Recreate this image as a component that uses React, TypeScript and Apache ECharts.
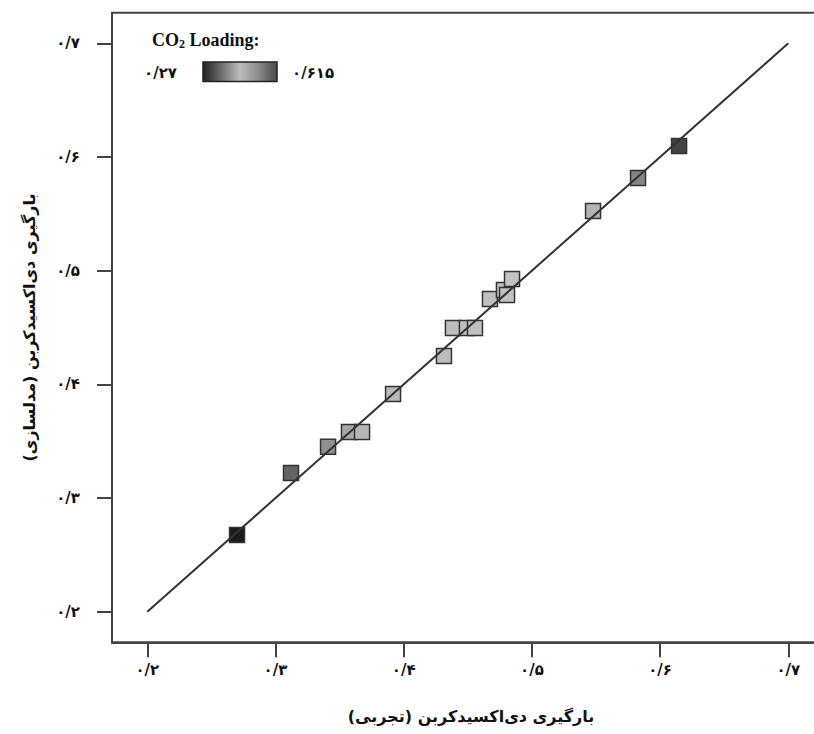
import React, { useEffect, useRef } from "react";
import * as echarts from "echarts";

// experimental CO2 loading (x) vs modelled (y)
const experimental = [0.27, 0.3121, 0.341, 0.3573, 0.3675, 0.3917, 0.4314, 0.4384, 0.4493, 0.4556, 0.4673, 0.4782, 0.4806, 0.4845, 0.5477, 0.5828, 0.6148];
const modelled = [0.2675, 0.322, 0.345, 0.358, 0.358, 0.3915, 0.425, 0.4496, 0.4496, 0.4496, 0.4751, 0.483, 0.4786, 0.4926, 0.5525, 0.5815, 0.6097];
const tickValues = [0.2, 0.3, 0.4, 0.5, 0.6, 0.7];
const parityLine = [0.2, 0.7];
const loadingMin = 0.27;
const loadingMax = 0.615;
const grayScale = ["#1a1a1a", "#707070", "#b8b8b8", "#bababa", "#c0c0c0", "#c6c6c6", "#a8a8a8", "#444444"];
const legendScale = ["#222222", "#6e6e6e", "#bdbdbd", "#8a8a8a", "#4a4a4a"];

const xTitle = "بارگیری دی‌اکسیدکربن (تجربی)";
const yTitle = "بارگیری دی‌اکسیدکربن (مدلسازی)";

const faDigits = "۰۱۲۳۴۵۶۷۸۹";
const toFa = (s: string) => s.replace(/[0-9]/g, (d) => faDigits[+d]).replace(/\./g, "/");

const faFont = "'DejaVu Sans', sans-serif";

export default function App() {
  const ref = useRef<HTMLDivElement>(null);
  useEffect(() => {
    if (!ref.current) return;
    const chart = echarts.init(ref.current, null, { renderer: "svg" });
    const points = experimental.map((x, i) => [x, modelled[i]]);
    const gradStops = legendScale.map((c, i) => ({ offset: i / (legendScale.length - 1), color: c }));
    chart.setOption({
      animation: false,
      backgroundColor: "#fff",
      grid: {
        left: 112,
        right: -16,
        top: 12.7,
        bottom: 91.7,
        show: true,
        borderColor: "#444",
        borderWidth: 2,
        containLabel: false,
        outerBoundsMode: "none",
      },
      visualMap: {
        show: false,
        type: "continuous",
        dimension: 0,
        seriesIndex: 0,
        min: loadingMin,
        max: loadingMax,
        inRange: { color: grayScale },
      },
      xAxis: {
        type: "value",
        min: 0.17247,
        max: 0.73253,
        splitLine: { show: false },
        axisLine: { show: true, lineStyle: { color: "#444", width: 2 } },
        axisTick: { show: true, inside: false, length: 15, lineStyle: { color: "#444", width: 2 }, customValues: tickValues },
        axisLabel: {
          customValues: tickValues,
          margin: 20,
          color: "#111",
          fontSize: 15,
          fontWeight: "bold",
          fontFamily: faFont,
          formatter: (v: number) => toFa(v.toFixed(1)),
        },
        name: xTitle,
        nameLocation: "middle",
        nameGap: 66,
        nameTextStyle: { color: "#111", fontSize: 16, fontWeight: "bold", fontFamily: faFont },
      },
      yAxis: {
        type: "value",
        min: 0.1731,
        max: 0.7269,
        splitLine: { show: false },
        axisLine: { show: true, lineStyle: { color: "#444", width: 2 } },
        axisTick: { show: true, inside: false, length: 15, lineStyle: { color: "#444", width: 2 }, customValues: tickValues },
        axisLabel: {
          customValues: tickValues,
          margin: 32,
          color: "#111",
          fontSize: 15,
          fontWeight: "bold",
          fontFamily: faFont,
          formatter: (v: number) => toFa(v.toFixed(1)),
        },
        name: yTitle,
        nameLocation: "middle",
        nameGap: 75,
        nameRotate: 90,
        nameTextStyle: { color: "#111", fontSize: 16, fontWeight: "bold", fontFamily: faFont },
      },
      series: [
        {
          type: "scatter",
          data: points,
          symbol: "rect",
          symbolSize: 15,
          z: 2,
          itemStyle: { borderColor: "#333", borderWidth: 1.5, opacity: 1 },
        },
        {
          type: "line",
          data: parityLine.map((v) => [v, v]),
          showSymbol: false,
          symbol: "none",
          z: 3,
          lineStyle: { color: "#333", width: 2 },
          silent: true,
        },
      ],
      graphic: [
        {
          type: "text",
          left: 152,
          top: 31,
          style: {
            text: "CO{sub|2} Loading:",
            fill: "#111",
            font: "bold 18px 'Liberation Serif', serif",
            rich: {
              sub: { fontSize: 12, fontWeight: "bold", fontFamily: "'Liberation Serif', serif", verticalAlign: "bottom", padding: [8, 0, 0, 0] },
            },
          },
        },
        {
          type: "text",
          x: 177,
          y: 73,
          style: { text: toFa("0.27"), fill: "#111", font: "bold 15px " + faFont, align: "right", verticalAlign: "middle" },
        },
        {
          type: "rect",
          shape: { x: 203, y: 62, width: 74, height: 19.5 },
          style: {
            fill: new echarts.graphic.LinearGradient(0, 0, 1, 0, gradStops),
            stroke: "#222",
            lineWidth: 1.5,
          },
        },
        {
          type: "text",
          x: 292,
          y: 73,
          style: { text: toFa("0.615"), fill: "#111", font: "bold 15px " + faFont, align: "left", verticalAlign: "middle" },
        },
      ],
    });
    return () => chart.dispose();
  }, []);
  return <div ref={ref} style={{ position: "fixed", left: 0, top: 0, width: 814, height: 734 }} />;
}
